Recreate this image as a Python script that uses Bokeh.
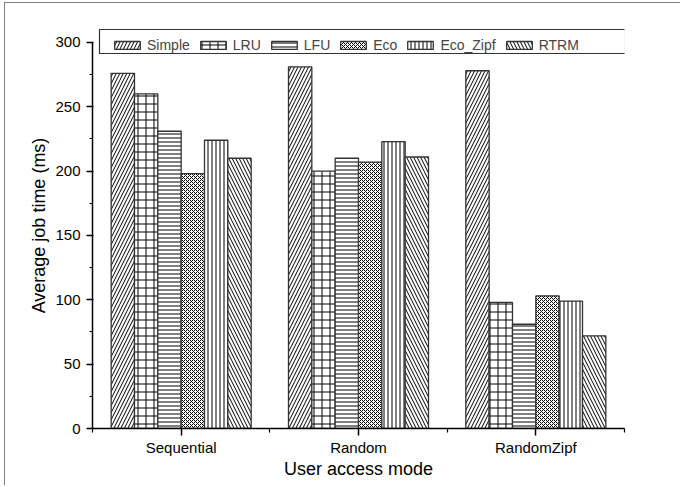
from bokeh.plotting import figure
from bokeh.models import Range1d, FixedTicker, Legend, LegendItem, BoxAnnotation
from bokeh.embed import file_html
from bokeh.resources import INLINE

categories = ["Sequential", "Random", "RandomZipf"]
series = ["Simple", "LRU", "LFU", "Eco", "Eco_Zipf", "RTRM"]
simple = [276, 281, 278]
lru = [260, 200, 98]
lfu = [231, 210, 81]
eco = [198, 207, 103]
eco_zipf = [224, 223, 99]
rtrm = [210, 211, 72]
y_ticks = [0, 50, 100, 150, 200, 250, 300]
y_minor = [25, 75, 125, 175, 225, 275]

values = [simple, lru, lfu, eco, eco_zipf, rtrm]
hatches = ["/", "+", "-", "x", "|", "\\"]
hatch_scales = [7, 8, 4, 4, 4, 7]

FONT = "Liberation Sans"

p = figure(width=676, height=483, output_backend="svg", toolbar_location=None,
           x_range=Range1d(0, 3), y_range=Range1d(0, 315.5),
           min_border_left=87, min_border_right=57, min_border_top=19, min_border_bottom=58)
p.styles = {"margin-left": "4px", "margin-top": "2px",
            "border-left": "1px solid #808080", "border-top": "1px solid #808080"}
p.outline_line_color = None
p.xgrid.visible = False
p.ygrid.visible = False
p.background_fill_color = "white"
p.border_fill_color = "white"

bw = 0.1316
renderers = []
for j, (name, vals) in enumerate(zip(series, values)):
    xs = [i + 0.5 + (j - 2.5) * bw for i in range(len(categories))]
    r = p.vbar(x=xs, top=vals, bottom=0, width=bw, fill_color="white",
               line_color="#333333", line_width=1.3,
               hatch_pattern=hatches[j], hatch_color="black",
               hatch_scale=hatch_scales[j], hatch_weight=1)
    renderers.append(r)

xa = p.xaxis[0]
ya = p.yaxis[0]
xa.ticker = FixedTicker(ticks=[i + 0.5 for i in range(len(categories))],
                        minor_ticks=[float(i) for i in range(len(categories) + 1)])
xa.major_label_overrides = {i + 0.5: c for i, c in enumerate(categories)}
ya.ticker = FixedTicker(ticks=y_ticks, minor_ticks=y_minor)
ya.bounds = (0, 300)
xa.axis_label = "User access mode"
ya.axis_label = "Average job time (ms)"

for ax in (xa, ya):
    ax.axis_line_color = "black"
    ax.axis_line_width = 1.5
    ax.major_tick_line_color = "black"
    ax.major_tick_line_width = 1.5
    ax.minor_tick_line_color = "black"
    ax.minor_tick_line_width = 1.2
    ax.major_label_text_font = FONT
    ax.major_label_text_font_size = "15px"
    ax.major_label_text_color = "black"
    ax.axis_label_text_font = FONT
    ax.axis_label_text_font_size = "18px"
    ax.axis_label_text_font_style = "normal"
    ax.axis_label_text_color = "black"

xa.major_tick_out = 7
xa.major_tick_in = 0
xa.minor_tick_out = 4
xa.minor_tick_in = 0
xa.major_label_standoff = 3
xa.axis_label_standoff = 0
ya.major_tick_out = 6
ya.major_tick_in = 1
ya.minor_tick_out = 3
ya.minor_tick_in = 0
ya.major_label_standoff = 6
ya.axis_label_standoff = 3

legend = Legend(items=[LegendItem(label=n, renderers=[r]) for n, r in zip(series, renderers)],
                orientation="horizontal", location=(19, 375),
                border_line_color=None, background_fill_alpha=0,
                padding=5, spacing=7, label_standoff=4, margin=0,
                glyph_width=32, glyph_height=10, label_height=14,
                label_text_font=FONT, label_text_font_size="14px")
p.add_layout(legend)

box = BoxAnnotation(left=7, right=533, bottom=375, top=399,
                    left_units="screen", right_units="screen",
                    bottom_units="screen", top_units="screen",
                    fill_alpha=0, line_color="#333333", line_width=1.2, line_alpha=1)
p.add_layout(box)

open("out.html", "w").write(file_html(p, INLINE))
